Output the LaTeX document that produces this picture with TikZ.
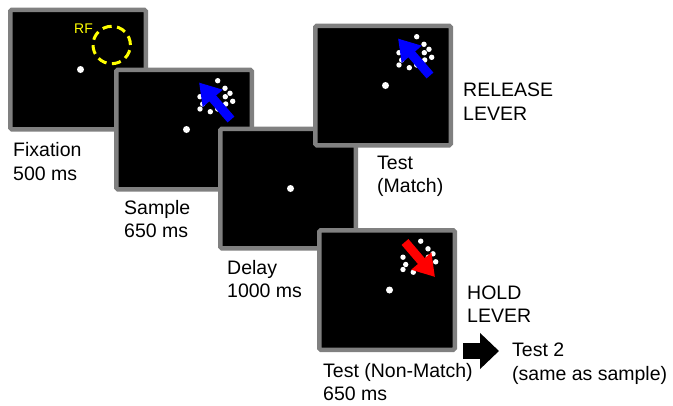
\documentclass[tikz,border=0pt]{standalone}
\usepackage{fontspec}
\setmainfont{Liberation Sans}
\usetikzlibrary{arrows.meta}
\definecolor{scrgray}{RGB}{128,128,128}
\definecolor{rfyellow}{RGB}{255,255,0}
\newcommand\mydotcluster{%
  \foreach \px/\py in {103.7/13.2, 111/20.8, 116/25.8, 111.3/29.2, 118.7/33.8,
                       86/29.2, 88.7/36.5, 111.7/36.5, 86/41.5, 96.3/44.2, 103.7/41.5}
    \fill[white] (\px,\py) circle[radius=2.7pt];}
\begin{document}
\begin{tikzpicture}[x=1pt,y=-1pt,
  screen/.style={draw=scrgray, line width=4.5pt, fill=black, rounded corners=1.5pt,
                 minimum width=135.5pt, minimum height=119.5pt, inner sep=0pt, outer sep=0pt},
  fixdot/.style={circle, fill=white, minimum size=7pt, inner sep=0pt},
  lbl/.style={anchor=base west, align=left, inner sep=0pt, font=\fontsize{19.5}{23.5}\selectfont},
  motion/.style={line width=9pt, -{Triangle[width=25pt,length=21pt]}},
]
\useasboundingbox (0,0) rectangle (673,405);
% Fixation
\begin{scope}[shift={(8,7.5)}]
  \node[screen] (fixscr) at (70,62) {};
  \node[fixdot] (fixdot) at (72.5,62) {};
  \node[draw=rfyellow, line width=3pt, dash pattern=on 9.2pt off 5.5pt, circle,
        minimum size=37.4pt, inner sep=0pt] (rfcircle) at (103.7,37.5) {};
  \node[anchor=base west, inner sep=0pt, text=rfyellow, font=\fontsize{14}{16}\selectfont] (rf) at (66,25.8) {RF};
\end{scope}
% Sample
\begin{scope}[shift={(114,67.5)}]
  \node[screen] (samplescr) at (70,62) {};
  \node[fixdot] (sampledot) at (72.5,62) {};
  \mydotcluster
  \coordinate (sampletail) at (117,52);
  \coordinate (sampletip) at (85,15);
  \draw[motion, blue] (sampletail) -- (sampletip);
\end{scope}
% Delay
\begin{scope}[shift={(218,126.5)}]
  \node[screen] (delayscr) at (70,62) {};
  \node[fixdot] (delaydot) at (72.5,62) {};
\end{scope}
% Test (Match)
\begin{scope}[shift={(313,23.5)}]
  \node[screen] (matchscr) at (70,62) {};
  \node[fixdot] (matchdot) at (72.5,62) {};
  \mydotcluster
  \coordinate (matchtail) at (117,52);
  \coordinate (matchtip) at (85,15);
  \draw[motion, blue] (matchtail) -- (matchtip);
\end{scope}
% Test (Non-Match)
\begin{scope}[shift={(317,228)}]
  \node[screen] (nonmatchscr) at (70,62) {};
  \node[fixdot] (nonmatchdot) at (72.5,62) {};
  \mydotcluster
  \coordinate (nonmatchtail) at (88,14);
  \coordinate (nonmatchtip) at (118,49);
  \draw[motion, red] (nonmatchtail) -- (nonmatchtip);
\end{scope}
% Labels (anchor = baseline of the last line)
\node[lbl] (fixlbl) at (13,180.2) {Fixation\\500 ms};
\node[lbl] (samplelbl) at (124,237.5) {Sample\\650 ms};
\node[lbl] (delaylbl) at (227,297.5) {Delay\\1000 ms};
\node[lbl] (matchlbl) at (377,192.5) {Test\\(Match)};
\node[lbl] (releaselbl) at (463,120.2) {RELEASE\\LEVER};
\node[lbl] (holdlbl) at (467,322.5) {HOLD\\LEVER};
\node[lbl] (nonmatchlbl) at (323,400.5) {Test (Non-Match)\\650 ms};
\node[lbl] (test2lbl) at (512,380.2) {Test 2\\(same as sample)};
% Next arrow
\coordinate (nexttail) at (463,351);
\coordinate (nexttip) at (499,351);
\draw[line width=16pt, -{Triangle[width=35pt,length=19pt]}] (nexttail) -- (nexttip);
\end{tikzpicture}
\end{document}
